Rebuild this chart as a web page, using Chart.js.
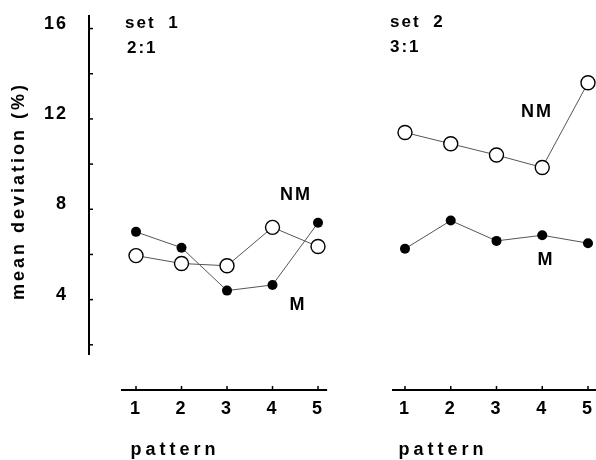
<!DOCTYPE html>
<html>
<head>
<meta charset="utf-8">
<script src="https://cdn.jsdelivr.net/npm/chart.js@4.4.0/dist/chart.umd.min.js"></script>
<style>
    html, body { margin: 0; padding: 0; background: #fff; }
    #wrap { position: relative; width: 596px; height: 460px; overflow: hidden; }
    #set1 { position: absolute; left: 0; top: 0; }
    #set2 { position: absolute; left: 350px; top: 0; }
</style>
</head>
<body>
<div id="wrap">
    <canvas id="set1" width="350" height="460"></canvas>
    <canvas id="set2" width="246" height="460"></canvas>
</div>
<script>
    // data
    var patterns = [1, 2, 3, 4, 5];
    var set1M = [7.0, 6.3, 4.4, 4.65, 7.4];
    var set1NM = [5.95, 5.6, 5.5, 7.2, 6.35];
    var set2M = [6.25, 7.5, 6.6, 6.85, 6.5];
    var set2NM = [11.4, 10.9, 10.4, 9.85, 13.6];
    var yTickLabels = [4, 8, 12, 16];
    var yTickMarks = [2, 4, 6, 8, 10, 12, 14, 16];

    var FONT = '"Liberation Sans", Arial, sans-serif';

    function points(values) {
        return patterns.map(function (p, i) { return { x: p, y: values[i] }; });
    }

    function datasets(m, nm) {
        return [{
                label: 'M',
                data: points(m),
                borderColor: '#555',
                borderWidth: 1,
                pointRadius: 5,
                pointBackgroundColor: '#000',
                pointBorderColor: '#000',
                pointBorderWidth: 0,
                order: 2
            },
            {
                label: 'NM',
                data: points(nm),
                borderColor: '#555',
                borderWidth: 1,
                pointRadius: 7,
                pointBackgroundColor: '#fff',
                pointBorderColor: '#000',
                pointBorderWidth: 1.4,
                order: 1
            }
        ];
    }

    // axis lines, tick marks and the text written on the figure
    function figurePlugin(cfg) {
        return {
            id: 'figure',
            beforeDraw: function (chart) {
                chart.ctx.letterSpacing = '2px';
            },
            afterDraw: function (chart) {
                var ctx = chart.ctx, x = chart.scales.x, y = chart.scales.y;
                ctx.save();
                ctx.strokeStyle = '#000';
                ctx.fillStyle = '#000';

                var yb = y.getPixelForValue(0);
                ctx.lineWidth = 2;
                ctx.beginPath();
                ctx.moveTo(x.getPixelForValue(cfg.xFrom), yb);
                ctx.lineTo(x.getPixelForValue(cfg.xTo), yb);
                ctx.stroke();
                ctx.lineWidth = 1.5;
                patterns.forEach(function (p) {
                    var px = x.getPixelForValue(p);
                    ctx.beginPath();
                    ctx.moveTo(px, yb);
                    ctx.lineTo(px, yb - 4);
                    ctx.stroke();
                });

                if (cfg.yAxis) {
                    var xl = chart.chartArea.left;
                    ctx.lineWidth = 2;
                    ctx.beginPath();
                    ctx.moveTo(xl, y.getPixelForValue(y.max));
                    ctx.lineTo(xl, y.getPixelForValue(cfg.yFrom));
                    ctx.stroke();
                    ctx.lineWidth = 1.5;
                    yTickMarks.forEach(function (v) {
                        var py = y.getPixelForValue(v);
                        ctx.beginPath();
                        ctx.moveTo(xl, py);
                        ctx.lineTo(xl + 4, py);
                        ctx.stroke();
                    });
                    ctx.save();
                    ctx.translate(19, 191);
                    ctx.rotate(-Math.PI / 2);
                    ctx.font = 'bold 18px ' + FONT;
                    ctx.letterSpacing = '3px';
                    ctx.textAlign = 'center';
                    ctx.textBaseline = 'middle';
                    ctx.fillText('mean deviation (%)', 0, 0);
                    ctx.restore();
                }

                ctx.wordSpacing = '6px';
                cfg.texts.forEach(function (t) {
                    ctx.font = 'bold ' + t.size + 'px ' + FONT;
                    ctx.letterSpacing = t.spacing + 'px';
                    ctx.textAlign = t.align;
                    ctx.textBaseline = 'alphabetic';
                    ctx.fillText(t.text, t.x, t.y);
                });
                ctx.restore();
            }
        };
    }

    function makeChart(id, m, nm, xMin, xMax, withY, cfg) {
        var ctx = document.getElementById(id).getContext('2d');
        return new Chart(ctx, {
            type: 'line',
            data: { datasets: datasets(m, nm) },
            options: {
                responsive: false,
                animation: false,
                layout: {
                    autoPadding: false,
                    padding: { top: 15, left: 0, right: 0, bottom: 0 }
                },
                plugins: { legend: { display: false }, tooltip: { enabled: false } },
                scales: {
                    x: {
                        type: 'linear',
                        min: xMin,
                        max: xMax,
                        grid: { display: false, drawTicks: false },
                        border: { display: false },
                        afterBuildTicks: function (scale) {
                            scale.ticks = patterns.map(function (v) { return { value: v }; });
                        },
                        afterFit: function (scale) {
                            scale.height = 70;
                            scale.paddingLeft = 0;
                            scale.paddingRight = 0;
                        },
                        ticks: {
                            padding: 8,
                            color: '#000',
                            font: { family: FONT, size: 18, weight: 'bold' }
                        }
                    },
                    y: {
                        display: withY,
                        min: 0,
                        max: 16.6,
                        grid: { display: false, drawTicks: false },
                        border: { display: false },
                        afterBuildTicks: function (scale) {
                            scale.ticks = yTickLabels.map(function (v) { return { value: v }; });
                        },
                        afterFit: function (scale) {
                            scale.width = withY ? 89 : 0;
                            scale.paddingTop = 0;
                            scale.paddingBottom = 0;
                        },
                        ticks: {
                            padding: 21,
                            labelOffset: -5,
                            color: '#000',
                            font: { family: FONT, size: 18, weight: 'bold' }
                        }
                    }
                }
            },
            plugins: [figurePlugin(cfg)]
        });
    }

    makeChart('set1', set1M, set1NM, -0.033, 5.703, true, {
        xFrom: 0.67, xTo: 5.2, yAxis: true, yFrom: 1.55,
        texts: [
            { text: 'set 1', x: 125, y: 28, size: 17, spacing: 2, align: 'left' },
            { text: '2:1', x: 127, y: 53, size: 17, spacing: 2, align: 'left' },
            { text: 'NM', x: 296, y: 200, size: 18, spacing: 2, align: 'center' },
            { text: 'M', x: 297, y: 310, size: 18, spacing: 0, align: 'center' },
            { text: 'pattern', x: 175, y: 455, size: 18, spacing: 4, align: 'center' }
        ]
    });

    makeChart('set2', set2M, set2NM, -0.202, 5.175, false, {
        xFrom: 0.716, xTo: 5.175, yAxis: false,
        texts: [
            { text: 'set 2', x: 40, y: 27, size: 17, spacing: 2, align: 'left' },
            { text: '3:1', x: 40, y: 52, size: 17, spacing: 2, align: 'left' },
            { text: 'NM', x: 187, y: 117, size: 18, spacing: 2, align: 'center' },
            { text: 'M', x: 195, y: 265, size: 18, spacing: 0, align: 'center' },
            { text: 'pattern', x: 93, y: 455, size: 18, spacing: 4, align: 'center' }
        ]
    });
</script>
</body>
</html>
